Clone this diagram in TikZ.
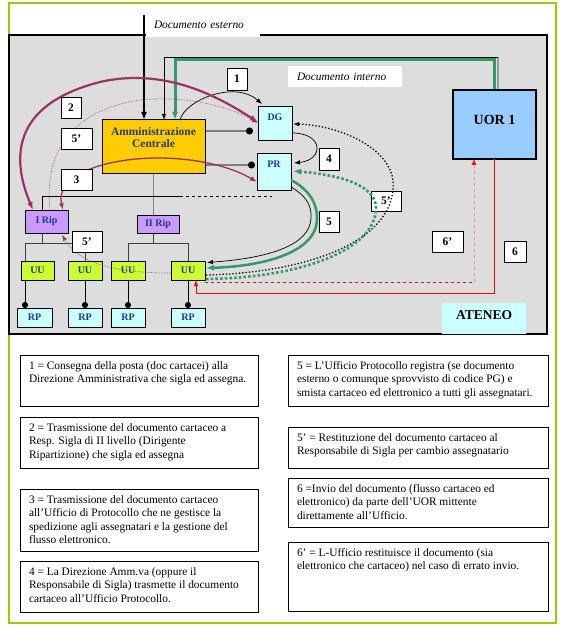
\documentclass[tikz,border=0pt]{standalone}
\usepackage{fontspec}
\setmainfont{Liberation Serif}
\usetikzlibrary{arrows.meta,calc}
\pgfdeclarelayer{back}
\pgfdeclarelayer{bg}
\pgfsetlayers{back,bg,main}
\definecolor{gold}{HTML}{FFCC00}
\definecolor{lcyan}{HTML}{CCFFFF}
\definecolor{lilac}{HTML}{CC99FF}
\definecolor{limeuu}{HTML}{CCFF33}
\definecolor{uorblue}{HTML}{99CCFF}
\definecolor{panelgrey}{HTML}{DDDDDD}
\definecolor{framegreen}{HTML}{99CC00}
\definecolor{plum}{HTML}{993366}
\definecolor{sea}{HTML}{339966}
\definecolor{boxnavy}{HTML}{1F3A8A}
\definecolor{ammnavy}{HTML}{2B3A78}
\newcommand\txtfont{\fontsize{11.4}{13.3}\selectfont}
\begin{document}
\begin{tikzpicture}[x=1pt,y=-1pt,
  every node/.style={inner sep=0pt,outer sep=0pt},
  unit/.style={draw=black,line width=1pt,text=boxnavy,font=\bfseries\fontsize{10}{11}\selectfont},
  numbox/.style={draw=black,line width=0.8pt,fill=white,font=\bfseries\fontsize{11.5}{13}\selectfont},
  txtbox/.style={draw=black,line width=1pt,anchor=north west},
  txtlbl/.style={anchor=north west,xshift=9pt,yshift=-6.5pt,align=left,font=\txtfont},
  tip/.style={-{Latex[length=6pt,width=4.5pt]}},
  bigtip/.style={-{Latex[length=8pt,width=6pt]}},
  tree/.style={draw=black!75,line width=0.9pt},
  dotlink/.style={draw=black,line width=0.9pt,-{Circle[length=6pt]}},
  greylink/.style={draw=gray,line width=1.5pt,-{Circle[length=7pt,color=black]}},
]
\useasboundingbox (0,0) rectangle (565,631);

\begin{pgfonlayer}{back}
  \draw[framegreen,line width=1.2pt] (9,3) rectangle (556,623);
  \draw[fill=panelgrey,draw=black,line width=1.2pt] (9,35) rectangle (547,334);
\end{pgfonlayer}

% labels
\node[fill=white,minimum width=114pt,minimum height=24pt,text width=98pt,inner xsep=8pt,align=left,
      font=\itshape\fontsize{11.4}{13}\selectfont] (docest) at (203,25) {Documento esterno};
\node[fill=white,minimum width=114pt,minimum height=21pt,text width=96pt,inner xsep=9pt,align=left,
      font=\itshape\fontsize{11.4}{13}\selectfont] (docint) at (345,76.5) {Documento interno};

% main boxes
\node[unit,fill=gold,minimum width=103pt,minimum height=54pt,
  label={[anchor=north,yshift=-7.5pt,align=center,text=ammnavy,font=\bfseries\fontsize{11.5}{12.5}\selectfont]north:Amministrazione\\Centrale}] (amm) at (153.5,147) {};
\node[unit,fill=lcyan,minimum width=34pt,minimum height=34pt,
  label={[anchor=north,yshift=-7pt,text=boxnavy,font=\bfseries\fontsize{10}{11}\selectfont]north:DG}] (dg) at (275,124) {};
\node[unit,fill=lcyan,minimum width=34pt,minimum height=36pt,
  label={[anchor=north,yshift=-7pt,text=boxnavy,font=\bfseries\fontsize{10}{11}\selectfont]north:PR}] (pr) at (274,172) {};
\node[draw=black,line width=1.2pt,fill=uorblue,minimum width=83pt,minimum height=69pt,
  label={[yshift=5pt,font=\bfseries\fontsize{14}{16}\selectfont]center:UOR 1}] (uor) at (494.5,124.5) {};
\node[fill=lcyan,minimum width=84pt,minimum height=31pt,
  label={[yshift=3.5pt,font=\bfseries\fontsize{13.5}{15}\selectfont]center:ATENEO}] (ateneo) at (484,318.5) {};

\node[unit,fill=lilac,minimum width=43pt,minimum height=23pt] (irip) at (46.5,221.5) {I Rip};
\node[unit,fill=lilac,minimum width=42pt,minimum height=18pt] (iirip) at (158,224) {II Rip};

\node[unit,fill=limeuu,minimum width=33pt,minimum height=19pt] (uu1) at (37.5,270.5) {UU};
\node[unit,fill=limeuu,minimum width=34pt,minimum height=19pt] (uu2) at (85,270.5) {UU};
\node[unit,fill=limeuu,minimum width=34pt,minimum height=19pt] (uu3) at (128,270.5) {UU};
\node[unit,fill=limeuu,minimum width=34pt,minimum height=19pt] (uu4) at (188,270.5) {UU};

\node[unit,fill=lcyan,minimum width=35pt,minimum height=19pt] (rp1) at (34.5,317.5) {RP};
\node[unit,fill=lcyan,minimum width=34pt,minimum height=19pt] (rp2) at (85,317.5) {RP};
\node[unit,fill=lcyan,minimum width=34pt,minimum height=19pt] (rp3) at (128,317.5) {RP};
\node[unit,fill=lcyan,minimum width=34pt,minimum height=19pt] (rp4) at (188,317.5) {RP};

% the right 5' box lies under the dotted returns
\node[numbox,minimum width=30pt,minimum height=20pt] (n5c) at (386,201) {5’};

\coordinate (extin) at (144,15);
\coordinate (cint) at (498,57);
\coordinate (cgr) at (175,60);
\coordinate (hl) at (180,196);
\coordinate (hr) at (272,196);
\coordinate (r6a) at (474,282);
\coordinate (r6b) at (196,293);

\begin{pgfonlayer}{bg}
  % incoming documents
  \draw[line width=2.5pt,bigtip] (extin) -- (extin |- amm.north);
  \draw[gray!80,line width=1.5pt] ([xshift=3.5pt]uor.north) -- (cint);
  \draw[black,line width=0.9pt,tip] (cint) -| ([xshift=10.5pt]amm.north);
  \draw[sea,line width=3pt,-{Latex[length=8pt,width=6pt]}] (uor.north) |- (cgr) -- (cgr |- amm.north);
  % tree
  \draw[tree,draw=gray] (amm.south) -- (amm.south |- iirip.north);
  \draw[tree,draw=black] ([xshift=-4.5pt]irip.north) |- (hl);
  \draw[tree,draw=black,dashed] (hl) -- (hr);
  \draw[tree] ([xshift=-4.5pt]irip.south) -- ++(0,10);
  \draw[tree] ([xshift=-12.5pt]uu1.north) -- ++(0,-18) -| (uu2.north);
  \draw[tree] (iirip.south -| amm.south) -- ++(0,10);
  \draw[tree] (uu3.north) -- ++(0,-18) -| (uu4.north);
  \draw[dotlink] ([xshift=-12.5pt]uu1.south) -- ([xshift=-12.5pt]uu1.south |- rp1.north);
  \draw[dotlink] (uu2.south) -- (rp2.north);
  \draw[dotlink] (uu3.south) -- (rp3.north);
  \draw[dotlink] (uu4.south) -- (rp4.north);
  \draw[greylink] ([yshift=16pt]amm.east) -- ([xshift=-5pt,yshift=-7pt]dg.west);
  \draw[greylink] ([yshift=-18pt]amm.east) -- ([xshift=-2pt,yshift=7pt]pr.west);
\end{pgfonlayer}

% red flows 6 and 6'
\draw[red,dashed,line width=0.9pt] ([yshift=-2pt]uu4.south east) -- (r6a);
\draw[red!45,dashed,line width=0.9pt,-{Latex[length=6pt,width=5pt,color=red]}] (r6a) -- (r6a |- uor.south);
\draw[red,line width=0.9pt,tip] (uor.south) |- (r6b) -- ([xshift=8pt]uu4.south);

% 1
\draw[line width=0.7pt,tip] ([xshift=26.5pt]amm.north) .. controls (185,100) and (235,80) .. ([xshift=4pt,yshift=3pt]dg.north west);
% 4
\draw[line width=0.7pt,tip] ([yshift=-9pt]dg.east) .. controls (324,133) and (324,160) .. ([xshift=3pt,yshift=9pt]pr.east);
% 2
\draw[plum,line width=2.2pt,{Latex[length=8pt,width=6pt]}-{Latex[length=8pt,width=6pt]}]
  ([xshift=8pt]irip.north west) .. controls (12,160) and (10,105) .. (100,82) .. controls (170,66) and (226,102) .. ([yshift=2pt]dg.west);
% 5' upper
\draw[plum,line width=0.6pt,densely dotted,-{Latex[length=6pt,width=4.5pt]}]
  ([xshift=3.5pt]irip.north) .. controls (45,165) and (60,112) .. (140,100) .. controls (190,95) and (232,108) .. ([yshift=1pt]dg.west);
% 3
\draw[plum,line width=1.3pt,{Latex[length=7pt,width=5pt]}-{Latex[length=7pt,width=5pt]}]
  ([xshift=-5pt]irip.north east) .. controls (58,190) and (70,172) .. (110,163) .. controls (160,152) and (220,160) .. ([yshift=-10pt]pr.west);
% 5' lower
\draw[plum,line width=0.6pt,densely dotted,-{Latex[length=6pt,width=4.5pt]}]
  ([yshift=-2.5pt]uu4.west) .. controls (120,273) and (80,265) .. ([xshift=-6pt,yshift=-2pt]irip.south east);
% PR -> UU (thin black)
\draw[line width=0.7pt,tip] ([yshift=3pt]pr.south east) .. controls (305,195) and (312,205) .. (311,218) .. controls (310,245) and (270,258) .. ([xshift=2pt,yshift=8pt]uu4.east);
% 5 green
\draw[sea,line width=2.5pt,-{Latex[length=8pt,width=6pt]}] ([yshift=-8pt]pr.east) .. controls (310,190) and (318,205) .. (317,220) .. controls (316,250) and (270,266) .. ([xshift=1pt,yshift=2.5pt]uu4.east);
% black dotted UU -> DG
\draw[black,line width=1.3pt,dotted,tip] ([xshift=1pt,yshift=-4.5pt]uu4.east) .. controls (300,273) and (388,245) .. (393,190) .. controls (398,150) and (340,125) .. ([xshift=1pt]dg.east);
% green dotted UU -> PR
\draw[sea,line width=2.6pt,dash pattern=on 2.5pt off 2.2pt,-{Latex[length=8pt,width=6pt]}] ([xshift=1pt,yshift=-8.5pt]uu4.east) .. controls (300,278) and (376,250) .. (376,208) .. controls (376,185) and (340,175) .. ([xshift=2pt,yshift=1pt]pr.east);

% number boxes
\node[numbox,minimum width=20pt,minimum height=22pt] (n1) at (237,79) {1};
\node[numbox,minimum width=20pt,minimum height=21pt] (n2) at (71,107.5) {2};
\node[numbox,minimum width=31pt,minimum height=21pt] (n5a) at (76.5,138.5) {5’};
\node[numbox,minimum width=31pt,minimum height=21pt] (n3) at (76.5,179.5) {3};
\node[numbox,minimum width=30pt,minimum height=21pt] (n5b) at (87,241.5) {5’};
\node[numbox,minimum width=20pt,minimum height=22pt] (n4) at (329,159) {4};
\node[numbox,minimum width=20pt,minimum height=21pt] (n5) at (329,221.5) {5};
\node[numbox,minimum width=31pt,minimum height=21pt] (n6p) at (447.5,241.5) {6’};
\node[numbox,minimum width=22pt,minimum height=21pt] (n6) at (515,251.5) {6};

% legend boxes
\node[txtbox,minimum width=238pt,minimum height=51pt,
  label={[txtlbl]north west:{1 = Consegna della posta (doc cartacei) alla\\Direzione Amministrativa che sigla ed assegna.}}] (t1) at (20,355) {};
\node[txtbox,minimum width=238pt,minimum height=51pt,
  label={[txtlbl]north west:{2 = Trasmissione del documento cartaceo a\\Resp. Sigla di II livello (Dirigente\\Ripartizione) che sigla ed assegna}}] (t2) at (20,417) {};
\node[txtbox,minimum width=238pt,minimum height=62pt,
  label={[txtlbl]north west:{3 = Trasmissione del documento cartaceo\\all’Ufficio di Protocollo che ne gestisce la\\spedizione agli assegnatari e la gestione del\\flusso elettronico.}}] (t3) at (20,489) {};
\node[txtbox,minimum width=238pt,minimum height=51pt,
  label={[txtlbl]north west:{4 = La Direzione Amm.va (oppure il\\Responsabile di Sigla) trasmette il documento\\cartaceo all’Ufficio Protocollo.}}] (t4) at (20,561) {};

\node[txtbox,minimum width=260pt,minimum height=51pt,
  label={[txtlbl]north west:{5 = L’Ufficio Protocollo registra (se documento\\esterno o comunque sprovvisto di codice PG) e\\smista cartaceo ed elettronico a tutti gli assegnatari.}}] (t5) at (288,355) {};
\node[txtbox,minimum width=260pt,minimum height=41pt,
  label={[txtlbl]north west:{5’ = Restituzione del documento cartaceo al\\Responsabile di Sigla per cambio assegnatario}}] (t5p) at (288,427) {};
\node[txtbox,minimum width=260pt,minimum height=49pt,
  label={[txtlbl]north west:{6 =Invio del documento (flusso cartaceo ed\\elettronico) da parte dell’UOR mittente\\direttamente all’Ufficio.}}] (t6) at (288,478) {};
\node[txtbox,minimum width=260pt,minimum height=69pt,
  label={[txtlbl]north west:{6’ = L-Ufficio restituisce il documento (sia\\elettronico che cartaceo) nel caso di errato invio.}}] (t6p) at (288,542) {};
\end{tikzpicture}
\end{document}
